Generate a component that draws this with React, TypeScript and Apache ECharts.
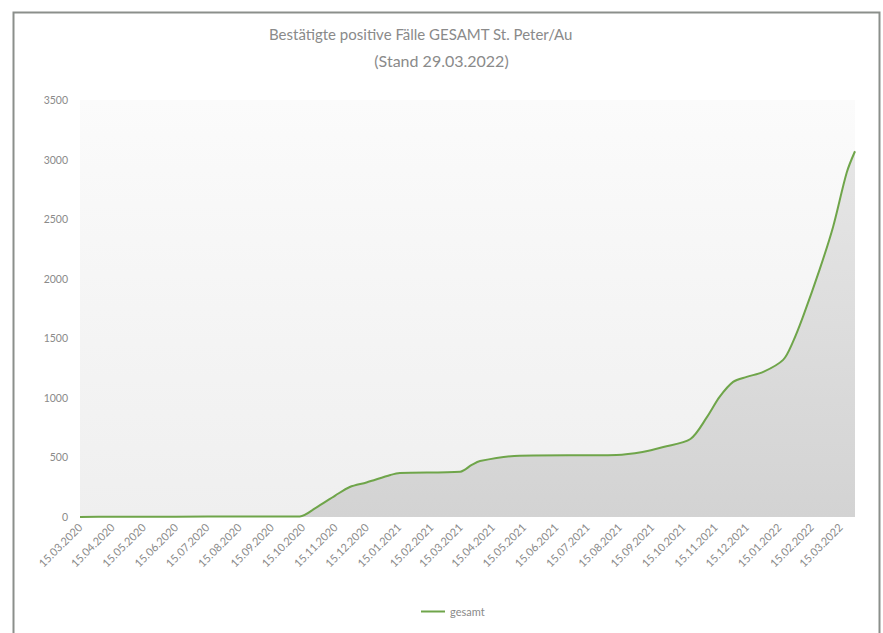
import React, { useEffect, useRef } from "react";
import * as echarts from "echarts";

const TITLE_LINE_1 = "Bestätigte positive Fälle GESAMT St. Peter/Au";
const TITLE_LINE_2 = "(Stand 29.03.2022)";
const SERIES_NAME = "gesamt";
const START_DATE = "2020-03-15";
const END_DATE = "2022-03-29";

const keyDates = [
  "15.03.2020", "15.04.2020", "15.06.2020", "15.08.2020", "12.10.2020",
  "27.10.2020", "15.11.2020", "29.11.2020", "15.12.2020", "07.01.2021",
  "16.01.2021", "15.03.2021", "26.03.2021", "03.04.2021", "11.05.2021",
  "12.08.2021", "06.09.2021", "26.09.2021", "22.10.2021", "07.11.2021",
  "19.11.2021", "02.12.2021", "15.12.2021", "31.12.2021", "19.01.2022",
  "28.01.2022", "07.02.2022", "23.02.2022", "08.03.2022", "21.03.2022",
  "29.03.2022",
];
const keyValues = [
  0, 2, 3, 4, 5,
  75, 180, 252, 290, 353,
  370, 380, 437, 470, 515,
  521, 546, 588, 655, 840,
  1008, 1134, 1176, 1218, 1319,
  1462, 1680, 2076, 2437, 2890,
  3070,
];

function fmt(d: Date): string {
  const dd = String(d.getUTCDate()).padStart(2, "0");
  const mm = String(d.getUTCMonth() + 1).padStart(2, "0");
  return `${dd}.${mm}.${d.getUTCFullYear()}`;
}

function buildCategories(): string[] {
  const out: string[] = [];
  const d = new Date(START_DATE + "T00:00:00Z");
  const end = new Date(END_DATE + "T00:00:00Z");
  while (d.getTime() <= end.getTime()) {
    out.push(fmt(d));
    d.setUTCDate(d.getUTCDate() + 1);
  }
  return out;
}

export default function App() {
  const ref = useRef<HTMLDivElement>(null);
  useEffect(() => {
    if (!ref.current) return;
    const chart = echarts.init(ref.current, null, { renderer: "svg" });
    const categories = buildCategories();
    const data = keyDates.map((d, i) => [d, keyValues[i]]);
    const titleStyle = {
      fontFamily: "Lato",
      fontSize: 15,
      fontWeight: "normal",
      color: "#8a8a8a",
    };
    chart.setOption({
      animation: false,
      backgroundColor: "#ffffff",
      textStyle: { fontFamily: "Lato" },
      title: [
        { text: TITLE_LINE_1, left: 264, top: 21, padding: 5, textStyle: titleStyle },
        { text: TITLE_LINE_2, left: "center", top: 47, padding: 5, textStyle: { ...titleStyle, fontSize: 16 } },
      ],
      legend: {
        bottom: 11,
        left: 416,
        itemWidth: 24,
        itemHeight: 2,
        icon: "rect",
        textStyle: { color: "#8a8a8a", fontSize: 11 },
        data: [SERIES_NAME],
      },
      grid: {
        left: 80,
        right: 28,
        top: 100,
        bottom: 116,
        show: true,
        borderWidth: 0,
        backgroundColor: new echarts.graphic.LinearGradient(0, 0, 0, 1, [
          { offset: 0, color: "#fbfbfb" },
          { offset: 1, color: "#efefef" },
        ]),
      },
      xAxis: {
        type: "category",
        data: categories,
        boundaryGap: false,
        axisLine: { show: false },
        axisTick: { show: false },
        splitLine: { show: false },
        axisLabel: {
          interval: (_i: number, v: string) => v.startsWith("15."),
          rotate: 45,
          color: "#8a8a8a",
          fontSize: 11,
          margin: 8,
        },
      },
      yAxis: {
        type: "value",
        min: 0,
        max: 3500,
        interval: 500,
        axisLine: { show: false },
        axisTick: { show: false },
        splitLine: { show: false },
        axisLabel: {
          color: "#8a8a8a",
          fontSize: 10.5,
          margin: 12,
          formatter: (v: number) => String(v),
        },
      },
      series: [
        {
          name: SERIES_NAME,
          type: "line",
          data,
          smooth: 0.3,
          showSymbol: false,
          lineStyle: { color: "#6fa54a", width: 2 },
          itemStyle: { color: "#6fa54a" },
          areaStyle: {
            color: new echarts.graphic.LinearGradient(0, 0, 0, 1, [
              { offset: 0, color: "#e6e6e6" },
              { offset: 1, color: "#d3d3d3" },
            ]),
            opacity: 1,
          },
        },
      ],
      graphic: [
        {
          type: "rect",
          left: 11,
          top: 10,
          shape: { x: 0, y: 0, width: 866, height: 640 },
          style: { fill: "none", stroke: "#8b8f8b", lineWidth: 2 },
          silent: true,
        },
      ],
    });
    return () => chart.dispose();
  }, []);
  return (
    <div
      ref={ref}
      style={{ position: "absolute", left: 0, top: 0, width: 883, height: 633 }}
    />
  );
}
